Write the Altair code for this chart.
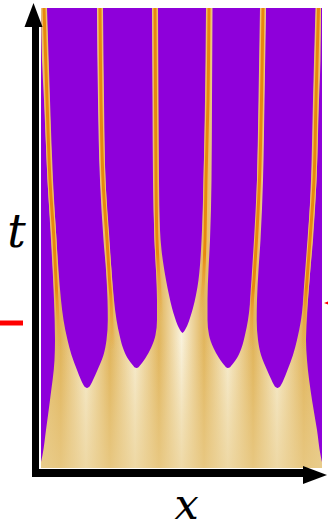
import altair as alt
import pandas as pd

# Domain of the plot area: position x and time t
X_MAX = 281
T_MAX = 460

PURPLE = "#8E00DA"
ORANGE = "#E8870E"
GOLD = "#F0C060"

# Purple regions: for each, the time samples and the left / right edges
strip_left_t = [460, 408, 368, 288, 228, 168, 128, 108, 68, 38, 13, 6]
strip_left_x0 = [0, 0, 0, 0, 0, 0, 0, 0, 0, 0, 0, 0]
strip_left_x1 = [0, 1, 3, 6.5, 10, 13, 14, 13.5, 9, 5, 1.5, 0]

finger_a_t = [460, 368, 288, 228, 198, 168, 148, 128, 113, 98, 88, 83, 81, 80]
finger_a_left = [6, 9, 12, 15.5, 17.5, 20, 22.5, 26.5, 30.5, 36, 40, 42.5, 44, 45.8]
finger_a_right = [56, 57, 59, 62.5, 65, 66.5, 66.8, 65.5, 62.5, 56.5, 52, 49.5, 48, 46.2]

finger_b_t = [460, 368, 288, 228, 198, 168, 148, 133, 120, 110, 105, 102, 100.5, 100]
finger_b_left = [62, 63, 64.5, 68, 70.5, 73, 75.5, 78.5, 82, 86.5, 90, 92.5, 94, 95.5]
finger_b_right = [111, 111.5, 112, 113.5, 115, 116, 116, 114.5, 110, 104.5, 101, 98.5, 97, 96]

finger_c_t = [460, 368, 288, 238, 218, 203, 188, 173, 160, 150, 143, 139, 136.5, 135]
finger_c_left = [117, 117.5, 118, 119, 120.5, 122.5, 125, 128, 131, 134, 136.5, 138.5, 140, 141.5]
finger_c_right = [165, 164, 162.5, 161, 160, 159, 157.5, 155, 152, 149, 146.5, 144.5, 143, 141.5]

finger_d_t = [460, 368, 288, 228, 198, 168, 148, 133, 120, 110, 105, 102, 100.5, 100]
finger_d_left = [171.5, 171, 170.5, 169, 167.5, 166.5, 166.5, 168, 172.5, 178, 181.5, 184, 185.5, 186.5]
finger_d_right = [219, 217.5, 216, 214, 212, 209.5, 207, 204, 200.5, 196, 192.5, 190, 188.5, 187]

finger_e_t = [460, 368, 288, 228, 198, 168, 148, 128, 113, 98, 88, 83, 81, 80]
finger_e_left = [225, 223.5, 222, 219.5, 217.5, 216, 215.7, 217, 220, 226, 230.5, 233, 234.5, 236.3]
finger_e_right = [274.5, 272, 270, 267, 265, 262.5, 260, 256, 252, 246.5, 242.5, 240, 238.5, 236.7]

strip_right_t = [460, 408, 368, 288, 228, 188, 128, 108, 68, 38, 13, 6]
strip_right_x0 = [280, 279.5, 278, 275.5, 272, 268.5, 265, 266, 271, 276, 279.5, 281]
strip_right_x1 = [281, 281, 281, 281, 281, 281, 281, 281, 281, 281, 281, 281]

# Filament centre lines
line_t = [460, 368, 288, 228, 188, 168, 138, 118]
outer_lines = {
    "1": [3, 6, 9, 13, 15, 16, 17.5, 19],
    "2": [59, 60, 62, 66, 68.5, 70, 71, 71.5],
    "5": [222, 220.5, 218.5, 215.5, 213, 211.5, 210.5, 210],
    "6": [277.5, 275, 273, 269, 266, 264.5, 263, 262],
}
inner_lines = {
    "3": [114, 114.5, 115, 116, 118, 119, 119.5, 120],
    "4": [168, 167, 165, 164, 162.5, 161, 160.5, 160],
}

# Markers on the time axis
left_marker_t = [145]
right_marker_t = [165]

regions = [
    ("L", strip_left_t, strip_left_x0, strip_left_x1),
    ("A", finger_a_t, finger_a_left, finger_a_right),
    ("B", finger_b_t, finger_b_left, finger_b_right),
    ("C", finger_c_t, finger_c_left, finger_c_right),
    ("D", finger_d_t, finger_d_left, finger_d_right),
    ("E", finger_e_t, finger_e_left, finger_e_right),
    ("R", strip_right_t, strip_right_x0, strip_right_x1),
]
rows = []
for name, ts_, lo, hi in regions:
    for t, a, b in zip(ts_, lo, hi):
        rows.append({"region": name, "t": t, "left": a, "right": b})
purple_df = pd.DataFrame(rows)


def lines_frame(lines):
    out = []
    for name, xs_ in lines.items():
        for t, x in zip(line_t, xs_):
            out.append({"line": name, "t": t, "x": x})
    return pd.DataFrame(out)


outer_df = lines_frame(outer_lines)
inner_df = lines_frame(inner_lines)

xs = alt.Scale(domain=[0, X_MAX], nice=False, zero=False)
ts = alt.Scale(domain=[0, T_MAX], nice=False, zero=False)

# Horizontal colour banding of the bright phase
band = alt.Gradient(
    gradient="linear", x1=0, x2=1, y1=0, y2=0,
    stops=[
        alt.GradientStop(color="#E6C67E", offset=0.0),
        alt.GradientStop(color="#E0B358", offset=0.07),
        alt.GradientStop(color="#F7EED3", offset=0.16),
        alt.GradientStop(color="#E0B358", offset=0.245),
        alt.GradientStop(color="#F7EED3", offset=0.335),
        alt.GradientStop(color="#E1B55C", offset=0.42),
        alt.GradientStop(color="#F9F2DC", offset=0.50),
        alt.GradientStop(color="#E1B55C", offset=0.58),
        alt.GradientStop(color="#F7EED3", offset=0.665),
        alt.GradientStop(color="#E0B358", offset=0.755),
        alt.GradientStop(color="#F7EED3", offset=0.84),
        alt.GradientStop(color="#E0B358", offset=0.935),
        alt.GradientStop(color="#E6C67E", offset=1.0),
    ],
)
box = pd.DataFrame({"x0": [0], "x1": [X_MAX], "t0": [0], "t1": [T_MAX]})
background = alt.Chart(box).mark_rect(color=band).encode(
    x=alt.X("x0:Q", scale=xs, axis=None), x2="x1",
    y=alt.Y("t0:Q", scale=ts, axis=None), y2="t1",
)

# The bright phase evens out towards t = 0
floor_box = pd.DataFrame({"x0": [0], "x1": [X_MAX], "t0": [0], "t1": [130]})
floor_fade = alt.Gradient(
    gradient="linear", x1=0, x2=0, y1=0, y2=1,
    stops=[
        alt.GradientStop(color="rgba(234,207,145,0)", offset=0.0),
        alt.GradientStop(color="rgba(234,207,145,0.45)", offset=0.6),
        alt.GradientStop(color="rgba(234,207,145,0.7)", offset=1.0),
    ],
)
floor = alt.Chart(floor_box).mark_rect(color=floor_fade).encode(
    x=alt.X("x0:Q", scale=xs, axis=None), x2="x1",
    y=alt.Y("t0:Q", scale=ts, axis=None), y2="t1",
)

purple = alt.Chart(purple_df).mark_area(
    orient="horizontal", color=PURPLE, opacity=1, interpolate="monotone"
).encode(
    y=alt.Y("t:Q", scale=ts, axis=None),
    x=alt.X("left:Q", scale=xs, axis=None),
    x2="right",
    detail="region:N",
)


def fade(color, full, gone):
    return alt.Gradient(
        gradient="linear", x1=0, x2=0, y1=0, y2=1,
        stops=[
            alt.GradientStop(color=color, offset=0.0),
            alt.GradientStop(color=color, offset=full),
            alt.GradientStop(color="rgba(232,170,70,0)", offset=gone),
        ],
    )


def filament(df, full, gone, width, color):
    return alt.Chart(df).mark_line(
        stroke=fade(color, full, gone), strokeWidth=width, strokeCap="butt",
        interpolate="catmull-rom",
    ).encode(
        x=alt.X("x:Q", scale=xs, axis=None),
        y=alt.Y("t:Q", scale=ts, axis=None),
        order=alt.Order("t:Q", sort="descending"),
        detail="line:N",
    )


glow_outer = filament(outer_df, 0.8, 1.0, 5, GOLD)
core_outer = filament(outer_df, 0.82, 1.0, 3, ORANGE)
glow_inner = filament(inner_df, 0.7, 0.92, 5, GOLD)
core_inner = filament(inner_df, 0.72, 0.9, 3, ORANGE)

# Axis arrows drawn outside the field
one = pd.DataFrame({"k": [0]})
t_shaft = alt.Chart(one).mark_rule(color="black", strokeWidth=7, strokeCap="butt").encode(
    x=alt.value(-5.5), y=alt.value(14), y2=alt.value(469)
)
x_shaft = alt.Chart(one).mark_rule(color="black", strokeWidth=8, strokeCap="butt").encode(
    x=alt.value(-9), x2=alt.value(266), y=alt.value(465)
)
t_head = alt.Chart(one).mark_point(
    shape="M -0.75 1 L 0 -1 L 0.75 1 Z", filled=True, color="black", opacity=1, size=576
).encode(x=alt.value(-7.5), y=alt.value(7))
x_head = alt.Chart(one).mark_point(
    shape="M -1 -0.75 L 1 0 L -1 0.75 Z", filled=True, color="black", opacity=1, size=576
).encode(x=alt.value(274), y=alt.value(467))

t_label = alt.Chart(pd.DataFrame({"s": ["t"]})).mark_text(
    font="DejaVu Serif", fontStyle="italic", fontSize=46, baseline="alphabetic", align="center", color="black"
).encode(x=alt.value(-24.5), y=alt.value(239), text="s:N")
x_label = alt.Chart(pd.DataFrame({"s": ["x"]})).mark_text(
    font="DejaVu Serif", fontStyle="italic", fontSize=43, baseline="bottom", align="center", color="black"
).encode(x=alt.value(145.5), y=alt.value(520), text="s:N")

left_mark = alt.Chart(pd.DataFrame({"t": left_marker_t})).mark_rule(
    color="#FF0000", strokeWidth=5, strokeCap="butt"
).encode(x=alt.value(-41), x2=alt.value(-18), y=alt.Y("t:Q", scale=ts, axis=None))
right_mark = alt.Chart(pd.DataFrame({"t": right_marker_t})).mark_point(
    shape="M -1 0 L 1 -0.7 L 1 0.7 Z", filled=True, color="#FF0000", opacity=1, size=36
).encode(x=alt.value(286), y=alt.Y("t:Q", scale=ts, axis=None))

chart = alt.layer(
    background, floor, purple,
    glow_outer, glow_inner, core_outer, core_inner,
    t_shaft, x_shaft, t_head, x_head, t_label, x_label, left_mark, right_mark,
).properties(
    width=X_MAX, height=T_MAX,
    padding={"left": 41, "top": 8, "right": 6, "bottom": 61},
    autosize=alt.AutoSizeParams(type="none"),
    background="white",
).configure_view(stroke=None)

chart.save("out.html", embed_options={"renderer": "svg", "actions": False})
